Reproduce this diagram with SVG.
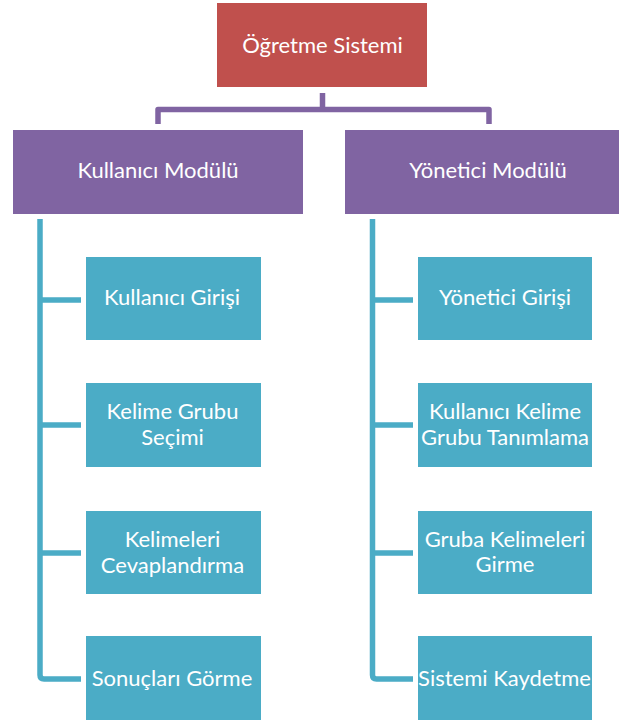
<svg xmlns="http://www.w3.org/2000/svg" width="619" height="720" viewBox="0 0 619 720">
<style>
.t{font-family:Lato,"Open Sans",sans-serif;font-size:22px;fill:#fff;text-anchor:middle}
.red{fill:#C0504D}
.pur{fill:#8064A2}
.teal{fill:#4BACC6}
.pl{fill:none;stroke:#8064A2;stroke-width:5.5;stroke-linejoin:round}
.tl{fill:none;stroke:#4BACC6;stroke-width:5.5;stroke-linejoin:round}
</style>
<rect width="619" height="720" fill="#fff"/>
<g id="connectors">
<path class="pl" d="M322.5,93 V109.5 M158,124 V109.5 H489 V124"/>
<path class="tl" d="M40,219 V675 Q40,679 44,679 H81 M40,300 H81 M40,425 H81 M40,553 H81"/>
<path class="tl" d="M372.5,219 V675 Q372.5,679 376.5,679 H413 M372.5,300 H413 M372.5,425 H413 M372.5,553 H413"/>
</g>
<g id="root"><rect class="red" x="217" y="3" width="210" height="84"/><text class="t" x="322.5" y="53">Öğretme Sistemi</text></g>
<g id="kullanici-modulu"><rect class="pur" x="13" y="130" width="290" height="84"/><text class="t" x="158" y="178">Kullanıcı Modülü</text></g>
<g id="yonetici-modulu"><rect class="pur" x="345" y="130" width="290" height="84"/><text class="t" x="488" y="178">Yönetici Modülü</text></g>
<g id="kullanici-girisi"><rect class="teal" x="86" y="257" width="175" height="83"/><text class="t" x="172" y="305">Kullanıcı Girişi</text></g>
<g id="kelime-grubu-secimi"><rect class="teal" x="86" y="383" width="175" height="84"/><text class="t" x="172.5" y="419">Kelime Grubu</text><text class="t" x="172.5" y="445">Seçimi</text></g>
<g id="kelimeleri-cevaplandirma"><rect class="teal" x="86" y="511" width="175" height="83"/><text class="t" x="172.5" y="547">Kelimeleri</text><text class="t" x="172.5" y="573">Cevaplandırma</text></g>
<g id="sonuclari-gorme"><rect class="teal" x="86" y="636" width="175" height="84"/><text class="t" x="172" y="686">Sonuçları Görme</text></g>
<g id="yonetici-girisi"><rect class="teal" x="418" y="257" width="174" height="83"/><text class="t" x="505" y="305">Yönetici Girişi</text></g>
<g id="kullanici-kelime-grubu-tanimlama"><rect class="teal" x="418" y="383" width="174" height="84"/><text class="t" x="505" y="419">Kullanıcı Kelime</text><text class="t" x="505" y="445">Grubu Tanımlama</text></g>
<g id="gruba-kelimeleri-girme"><rect class="teal" x="418" y="511" width="174" height="83"/><text class="t" x="505" y="547">Gruba Kelimeleri</text><text class="t" x="505" y="572">Girme</text></g>
<g id="sistemi-kaydetme"><rect class="teal" x="418" y="636" width="174" height="84"/><text class="t" x="504.5" y="686">Sistemi Kaydetme</text></g>
</svg>
